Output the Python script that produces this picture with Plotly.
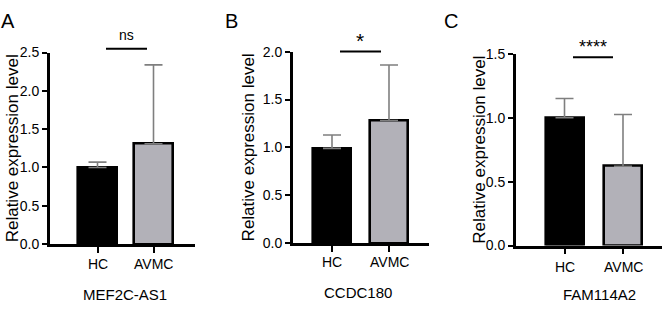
import plotly.graph_objects as go

W, H = 663, 309

categories = ["HC", "AVMC"]
genes = ["MEF2C-AS1", "CCDC180", "FAM114A2"]
panel_letters = ["A", "B", "C"]
significance = ["ns", "*", "****"]

mef2c_mean = [1.00, 1.31]
mef2c_err = [0.07, 1.03]
ccdc180_mean = [0.99, 1.28]
ccdc180_err = [0.14, 0.58]
fam114a2_mean = [1.00, 0.62]
fam114a2_err = [0.15, 0.405]

y_max = [2.5, 2.0, 1.5]
y_dtick = [0.5, 0.5, 0.5]

bar_colors = ["#000000", "#b2b1b8"]
FONT = "Liberation Sans, Arial, sans-serif"

# layout in pixels
panels = [
    dict(x0=50, x1=195, yb=249, yt=47, c0=97.5, c1=153.5, bw=39,
         sig=(106, 147, 43), sigtxt=(126.5, 29, 14), ytitle_x=12,
         xtick_y=270, gene=(125, 302), letter=(8, 14)),
    dict(x0=293, x1=429, yb=248, yt=46, c0=332, c1=389, bw=38,
         sig=(340, 381, 46), sigtxt=(360.5, 34, 21), ytitle_x=248,
         xtick_y=268, gene=(358, 300), letter=(231, 14)),
    dict(x0=516, x1=662, yb=250.5, yt=48.3, c0=564.5, c1=623, bw=38,
         sig=(573, 613, 52), sigtxt=(593, 41, 18), ytitle_x=480,
         xtick_y=273, gene=(599, 302), letter=(451, 14)),
]

means = [mef2c_mean, ccdc180_mean, fam114a2_mean]
errs = [mef2c_err, ccdc180_err, fam114a2_err]

fig = go.Figure()
shapes = []
annotations = []

def px(x):
    return x / W

def py(y):
    return 1 - y / H

for i, p in enumerate(panels):
    n = "" if i == 0 else str(i + 1)
    spacing = p["c1"] - p["c0"]
    xr = [(p["x0"] - p["c0"]) / spacing, (p["x1"] - p["c0"]) / spacing]
    fig.add_trace(go.Bar(
        x=[0, 1], y=means[i],
        width=p["bw"] / spacing,
        marker=dict(color=bar_colors, line=dict(color="#000000", width=2.6)),
        error_y=dict(type="data", symmetric=False, array=errs[i],
                     arrayminus=[0, 0], color="#7f7f7f", thickness=1.6, width=9),
        xaxis="x" + n, yaxis="y" + n, showlegend=False,
    ))
    axis_common = dict(showline=True, linecolor="#000000", linewidth=2.8,
                       ticks="outside", tickcolor="#000000", tickwidth=2.2,
                       showgrid=False, zeroline=False,
                       tickfont=dict(family=FONT, size=14, color="#000000"))
    fig.layout["xaxis" + n] = dict(
        domain=[px(p["x0"]), px(p["x1"])], range=xr, anchor="y" + n,
        tickvals=[0, 1], ticktext=["", ""], ticklen=6, fixedrange=True,
        **axis_common)
    fig.layout["yaxis" + n] = dict(
        domain=[py(p["yb"]), py(p["yt"])], range=[0, y_max[i]], anchor="x" + n,
        dtick=y_dtick[i], tickformat=".1f", ticklen=5, fixedrange=True, **axis_common)

    for j, c in enumerate(categories):
        annotations.append(dict(x=j, y=py(p["xtick_y"]), xref="x" + n, yref="paper",
                                text=c, showarrow=False,
                                font=dict(family=FONT, size=14, color="#000000"),
                                xanchor="center", yanchor="middle"))
    annotations.append(dict(x=px(p["ytitle_x"]), y=py((p["yb"] + p["yt"]) / 2),
                            xref="paper", yref="paper", text="Relative expression level",
                            textangle=-90, showarrow=False,
                            font=dict(family=FONT, size=17, color="#000000"),
                            xanchor="center", yanchor="middle"))
    annotations.append(dict(x=px(p["gene"][0]), y=py(p["gene"][1]), xref="paper", yref="paper",
                            text=genes[i], showarrow=False,
                            font=dict(family=FONT, size=15, color="#000000"),
                            xanchor="center", yanchor="middle"))
    annotations.append(dict(x=px(p["letter"][0]), y=py(p["letter"][1]), xref="paper", yref="paper",
                            text=panel_letters[i], showarrow=False,
                            font=dict(family=FONT, size=20, color="#000000"),
                            xanchor="center", yanchor="middle"))
    sx0, sx1, sy = p["sig"]
    shapes.append(dict(type="line", xref="paper", yref="paper",
                       x0=px(sx0), x1=px(sx1), y0=py(sy), y1=py(sy),
                       line=dict(color="#000000", width=2)))
    tx, ty, ts = p["sigtxt"]
    annotations.append(dict(x=px(tx), y=py(ty), xref="paper", yref="paper",
                            text=significance[i], showarrow=False,
                            font=dict(family=FONT, size=ts, color="#000000"),
                            xanchor="center", yanchor="middle"))

fig.update_layout(
    width=W, height=H, margin=dict(l=0, r=0, t=0, b=0),
    paper_bgcolor="#ffffff", plot_bgcolor="#ffffff",
    shapes=shapes, annotations=annotations, bargap=0,
)

fig.write_html("out.html", config={"displayModeBar": False},
               post_script="document.body.style.margin='0';document.body.style.overflow='hidden';")
